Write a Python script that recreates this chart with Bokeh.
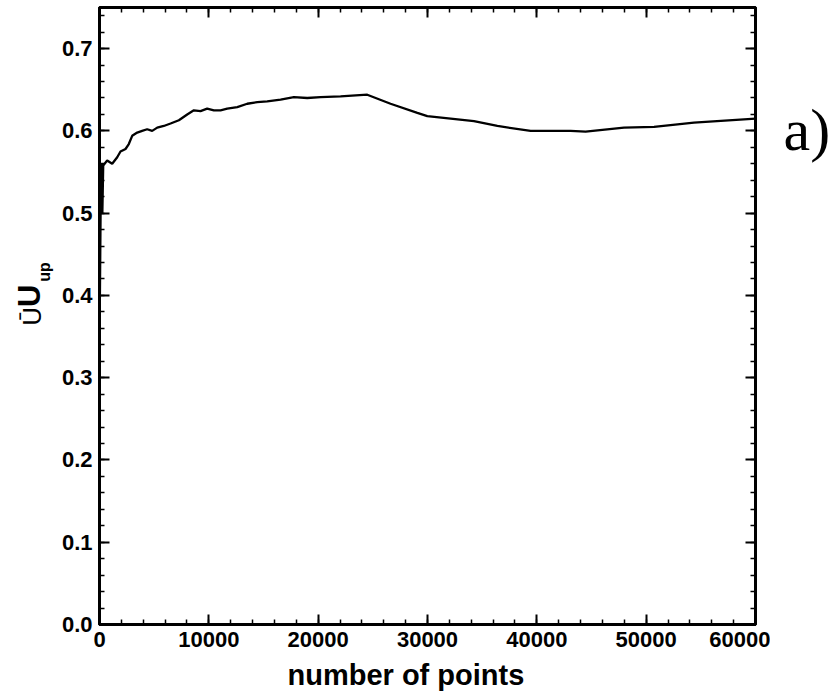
import math
from bokeh.plotting import figure
from bokeh.layouts import row, column
from bokeh.models import (Range1d, LinearAxis, SingleIntervalTicker,
                          PrintfTickFormatter, CustomJSTickFormatter,
                          ColumnDataSource)
from bokeh.core.properties import value
from bokeh.embed import file_html
from bokeh.resources import INLINE

# ---- data ----
n_points = [0, 100, 200, 260, 340, 700, 1160, 1620, 1920, 2380, 2680, 2990,
            3450, 3900, 4360, 4820, 5280, 5880, 6500, 7260, 8020, 8630, 9240,
            9850, 10460, 11070, 11680, 12600, 13510, 14430, 15340, 16560,
            17780, 19000, 20220, 22050, 24490, 26620, 29070, 29980, 34250,
            36390, 39430, 43090, 44460, 47970, 50720, 54370, 60000]
u_up = [0.34, 0.50, 0.56, 0.50, 0.558, 0.564, 0.560, 0.568, 0.575, 0.578,
        0.584, 0.594, 0.598, 0.600, 0.602, 0.600, 0.604, 0.606, 0.609, 0.613,
        0.620, 0.625, 0.624, 0.627, 0.625, 0.625, 0.627, 0.629, 0.633, 0.635,
        0.636, 0.638, 0.641, 0.640, 0.641, 0.642, 0.644, 0.633, 0.622, 0.618,
        0.612, 0.606, 0.600, 0.600, 0.599, 0.604, 0.605, 0.610, 0.615]

x_title = "number of points"
y_title_parts = ["\u016a", "U", "up"]
panel_tag = "a)"

# ---- layout geometry (pixels) ----
W, H = 836, 696
TOP_H = 657            # height of the row holding the plot
LEFT_W = 58            # strip holding the rotated y title
RIGHT_W = 66           # strip holding the panel tag
MAIN_W = W - LEFT_W - RIGHT_W
FL, FR, FT, FB = 99, 755, 7, 624   # frame edges on the page
BOT_H = H - TOP_H

FONT = "Liberation Sans"
BASE_SHIFT = 0.28      # em offset between anchor and drawn baseline


def blank_fig(w, h):
    f = figure(width=w, height=h, output_backend="svg", toolbar_location=None,
               x_range=Range1d(0, w), y_range=Range1d(0, h),
               x_axis_type=None, y_axis_type=None,
               min_border=0, min_border_left=0, min_border_right=0,
               min_border_top=0, min_border_bottom=0)
    f.outline_line_color = None
    f.xgrid.visible = False
    f.ygrid.visible = False
    f.background_fill_color = "white"
    f.border_fill_color = "white"
    return f


# ---- main plot ----
p = figure(width=MAIN_W, height=TOP_H, output_backend="svg",
           toolbar_location=None,
           x_range=Range1d(0, 60000), y_range=Range1d(0.0, 0.75),
           x_axis_type=None, y_axis_type=None,
           min_border_left=FL - LEFT_W, min_border_right=LEFT_W + MAIN_W - FR,
           min_border_top=FT, min_border_bottom=TOP_H - FB)
p.background_fill_color = "white"
p.border_fill_color = "white"
p.outline_line_color = "black"
p.outline_line_width = 3
p.xgrid.visible = False
p.ygrid.visible = False

blank_fmt = CustomJSTickFormatter(code="return '';")


def style_axis(ax, show_labels):
    ax.axis_line_color = "black"
    ax.axis_line_width = 3
    ax.major_tick_in = 10
    ax.major_tick_out = 0
    ax.minor_tick_in = 5
    ax.minor_tick_out = 0
    ax.major_tick_line_width = 2
    ax.minor_tick_line_width = 1.5
    ax.major_tick_line_color = "black"
    ax.minor_tick_line_color = "black"
    ax.major_label_text_font = FONT
    ax.major_label_text_font_style = "bold"
    ax.major_label_text_font_size = "22px"
    ax.major_label_text_color = "black"
    ax.major_label_standoff = 7 if show_labels else 0


for loc in ["below", "above"]:
    ax = LinearAxis(ticker=SingleIntervalTicker(interval=10000, num_minor_ticks=5),
                    formatter=PrintfTickFormatter(format="%d") if loc == "below" else blank_fmt)
    style_axis(ax, loc == "below")
    p.add_layout(ax, loc)

for loc in ["left", "right"]:
    ax = LinearAxis(ticker=SingleIntervalTicker(interval=0.1, num_minor_ticks=5),
                    formatter=PrintfTickFormatter(format="%.1f") if loc == "left" else blank_fmt)
    style_axis(ax, loc == "left")
    p.add_layout(ax, loc)

src = ColumnDataSource(dict(x=n_points, y=u_up))
p.line("x", "y", source=src, line_color="black", line_width=2.3)


def rot_text(fig, base_x, start_y, txt, size, bold):
    """Vertical text reading bottom-to-top; base_x = page x of baseline."""
    kw = dict(text_font_style=value("bold")) if bold else {}
    fig.text(x=[base_x - BASE_SHIFT * size], y=[TOP_H - start_y], text=[txt],
             angle=math.pi / 2, text_font=value(FONT),
             text_font_size=value(f"{size}px"), text_color="black",
             text_align=value("left"), text_baseline=value("alphabetic"), **kw)


# ---- left strip: rotated y title (U-bar, big U, subscript "up") ----
lf = blank_fig(LEFT_W, TOP_H)
rot_text(lf, 39, 339, y_title_parts[0], 26, False)
rot_text(lf, 38, 319, y_title_parts[1], 31, True)
rot_text(lf, 48, 292, y_title_parts[2], 16, True)

# ---- right strip: panel tag ----
TAG_FS = 60
rf = blank_fig(RIGHT_W, TOP_H)
rf.text(x=[783 - (LEFT_W + MAIN_W)], y=[TOP_H - (147 - BASE_SHIFT * TAG_FS)],
        text=[panel_tag],
        text_font=value("Liberation Serif"), text_font_size=value(f"{TAG_FS}px"),
        text_color="black", text_align=value("left"),
        text_baseline=value("alphabetic"))

# ---- bottom strip: x title ----
XT_FS = 29
bf = blank_fig(W, BOT_H)
bf.text(x=[287], y=[BOT_H - (683 - BASE_SHIFT * XT_FS - TOP_H)], text=[x_title],
        text_font=value(FONT), text_font_style=value("bold"),
        text_font_size=value(f"{XT_FS}px"), text_color="black",
        text_align=value("left"), text_baseline=value("alphabetic"))

page = column(row(lf, p, rf, spacing=0), bf, spacing=0)
open("out.html", "w").write(file_html(page, INLINE))
